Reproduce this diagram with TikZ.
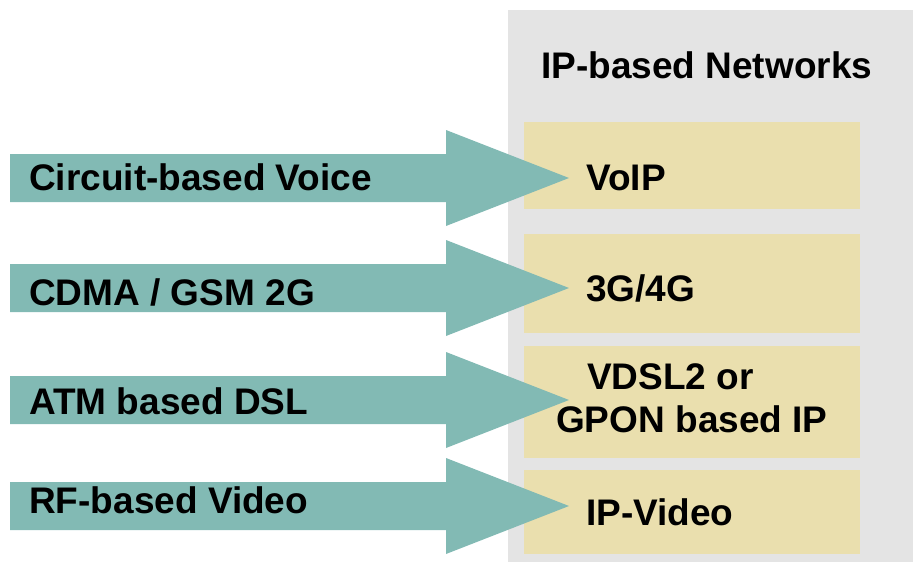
\documentclass[tikz,border=0pt]{standalone}
\usepackage{fontspec}
\setmainfont{Liberation Sans}
\definecolor{arrowteal}{HTML}{82BAB4}
\definecolor{panelgrey}{HTML}{E4E4E4}
\definecolor{boxyellow}{HTML}{EADFAE}
\begin{document}
\begin{tikzpicture}[x=1pt,y=-1pt,
  lbl/.style={font=\fontsize{37}{40}\selectfont\bfseries, inner sep=0pt, anchor=base west},
  techbox/.style={fill=boxyellow, inner sep=0pt, anchor=north west, minimum width=336pt},
  blockarrow/.style={fill=arrowteal}]
\useasboundingbox (0,0) rectangle (913,562);

% IP network panel
\fill[panelgrey] (508,10) rectangle (913,562);
\node[lbl] (title) at (541,78) {IP-based Networks};

% target technologies
\node[techbox, minimum height=87pt]  (voip)  at (524,122) {};
\node[techbox, minimum height=99pt]  (mob)   at (524,234) {};
\node[techbox, minimum height=112pt] (dsl)   at (524,346) {};
\node[techbox, minimum height=84pt]  (video) at (524,470) {};

% migration arrows (tail at x=10, tip inside the boxes)
\foreach \name/\yc in {voip/178, mob/288, dsl/400, video/506} {
  \coordinate (tail-\name) at (10,\yc);
  \coordinate (tip-\name) at (569,\yc);
  \fill[blockarrow] ([yshift=24pt]tail-\name) -- (446,\yc-24) -- (446,\yc-48)
     -- (tip-\name) -- (446,\yc+48) -- (446,\yc+24) -- ([yshift=-24pt]tail-\name) -- cycle;
}

% legacy services
\node[lbl] (l1) at (29,190) {Circuit-based Voice};
\node[lbl] (l2) at (29,305) {CDMA / GSM 2G};
\node[lbl] (l3) at (29,414) {ATM based DSL};
\node[lbl] (l4) at (29,513) {RF-based Video};

% IP services
\node[lbl] (r1)  at (586,190) {VoIP};
\node[lbl] (r2)  at (586,301) {3G/4G};
\node[lbl] (r3a) at (587,389) {VDSL2 or};
\node[lbl] (r3b) at (556,432) {GPON based IP};
\node[lbl] (r4)  at (586,525) {IP-Video};
\end{tikzpicture}
\end{document}
